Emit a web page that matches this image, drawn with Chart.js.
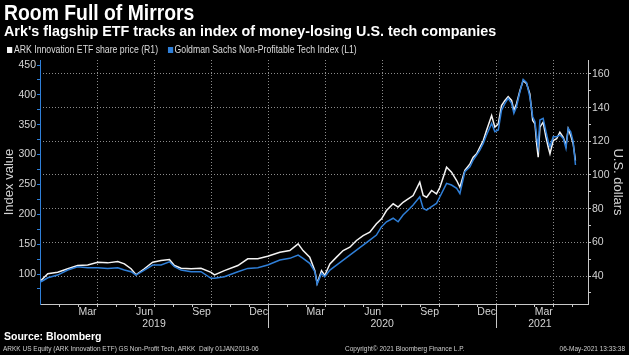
<!DOCTYPE html>
<html>
<head>
<meta charset="utf-8">
<script src="https://cdn.jsdelivr.net/npm/chart.js@4.4.1/dist/chart.umd.min.js"></script>
<style>
  html, body { margin:0; padding:0; background:#000; width:629px; height:355px; overflow:hidden; }
  #wrap { position:relative; width:629px; height:355px; background:#000; }
  #chart { position:absolute; left:0; top:0; }
  .t { position:absolute; white-space:nowrap; line-height:1; font-family:'Liberation Sans', Arial, sans-serif; color:#fff; transform-origin:0 0; }
  #title { left:4px; top:2px; font-size:22px; font-weight:bold; transform:scaleX(0.88); }
  #sub { left:4px; top:23px; font-size:15px; font-weight:bold; transform:scaleX(0.955); }
  #legend { left:7px; top:45px; font-size:10px; color:#dcdcdc; transform:scaleX(0.87); }
  #legend .sw { display:inline-block; width:6px; height:6px; margin-right:2px; vertical-align:0px; }
  #legend .it { margin-right:11px; }
  #source { left:4px; top:331px; font-size:10.5px; font-weight:bold; }
  .fn { top:346px; font-size:6.5px; color:#cfcfcf; }
  #fn1 { left:3px; }
  #fn2 { left:345px; }
  #fn3 { right:4px; }
</style>
</head>
<body>
<div id="wrap">
  <canvas id="chart" width="629" height="355"></canvas>
  <div class="t" id="title">Room Full of Mirrors</div>
  <div class="t" id="sub">Ark's flagship ETF tracks an index of money-losing U.S. tech companies</div>
  <div class="t" id="legend"></div>
  <div class="t" id="source">Source: Bloomberg</div>
  <div class="t fn" id="fn1">ARKK US Equity (ARK Innovation ETF) GS Non-Profit Tech, ARKK&nbsp; Daily 01JAN2019-06</div>
  <div class="t fn" id="fn2">Copyright© 2021 Bloomberg Finance L.P.</div>
  <div class="t fn" id="fn3">06-May-2021 13:33:38</div>
</div>
<script>
// ---- data (x = months elapsed since 1 Jan 2019) ----
const monthsSinceJan2019 = [
  0.05, 0.41, 0.93, 1.46, 1.98, 2.51, 3.04, 3.56, 4.09, 4.44,
  4.79, 5.05, 5.49, 5.93, 6.37, 6.81, 7.07, 7.42, 7.95, 8.47,
  9.0, 9.18, 9.7, 10.41, 10.93, 11.46, 11.98,
  12.62, 13.14, 13.58, 13.84, 14.19, 14.46, 14.58, 14.81, 14.98, 15.25,
  15.6, 15.95, 16.3, 16.65, 17.0, 17.35, 17.7, 17.97, 18.23, 18.58,
  18.84, 19.1, 19.37, 19.63, 19.98, 20.16, 20.34, 20.6, 20.86, 21.04,
  21.39, 21.65, 21.92, 22.09,
  22.35, 22.62, 22.79, 22.97, 23.14, 23.32, 23.49, 23.76, 23.93, 24.11,
  24.28, 24.46, 24.63, 24.81, 24.93, 25.07, 25.25, 25.42, 25.6, 25.77,
  25.92, 26.04, 26.13, 26.21, 26.3, 26.47, 26.62, 26.74, 26.83, 27.0,
  27.18, 27.35, 27.53, 27.67, 27.79, 27.92, 28.05, 28.17
];
const arkPrice = [
  37.3, 41.3, 42.2, 44.3, 46.2, 46.6, 48.2, 47.8, 48.6, 47.2,
  44.3, 40.7, 44.3, 48.2, 49.2, 49.8, 46.2, 44.6, 44.3, 44.6,
  42.2, 40.7, 43.2, 46.2, 50.2, 50.2, 51.7,
  54.1, 55.1, 59.1, 55.1, 51.2, 43.2, 35.7, 43.2, 40.3, 47.2,
  51.2, 55.1, 57.1, 61.1, 64.0, 66.0, 71.0, 74.0, 78.9, 82.9,
  80.9, 83.8, 85.8, 87.8, 95.7, 87.8, 86.8, 90.8, 88.8, 92.7,
  104.6, 101.7, 96.7, 92.7,
  102.7, 106.6, 110.6, 112.6, 116.5, 120.5, 126.4, 135.3, 128.4, 130.4,
  141.3, 144.3, 146.6, 144.3, 138.3, 142.3, 150.2, 156.1, 154.2, 148.2,
  132.4, 130.4, 118.5, 110.6, 128.4, 131.4, 122.4, 116.5, 112.6, 120.5,
  121.5, 125.4, 122.4, 117.5, 127.4, 123.5, 118.5, 108.6
];
const gsIndex = [
  87, 93.7, 98.2, 106.6, 112.2, 110.5, 110.5, 109.4, 110.5, 106.6,
  103.8, 98.2, 106.6, 115, 115, 120.5, 112.2, 106.6, 103.8, 103.8,
  92.7, 92.7, 95.4, 103.8, 109.4, 110.5, 115,
  123.4, 126.2, 131.7, 126.2, 117.8, 103.8, 83.2, 101, 95.4, 106.6,
  115, 123.4, 131.7, 140.1, 148.5, 156.9, 165.2, 179.2, 187.5, 193.4,
  187.5, 198.7, 207.1, 215.5, 229.4, 209.9, 207.1, 212.7, 218.3, 229.4,
  251.8, 249, 243.5, 234.9,
  271.3, 279.7, 290.9, 299.2, 307.6, 318.8, 332.7, 352.3, 338.3, 341.1,
  374.6, 385.8, 394.2, 385.8, 369.1, 380.2, 405.3, 426, 420.4, 396.9,
  363.4, 355, 329.9, 313.1, 357.9, 360.7, 338.3, 321.5, 313.1, 329.9,
  329.9, 332.7, 327.1, 310.5, 344, 338.3, 321.5, 282.5
];
const seriesNames = ['ARK Innovation ETF share price (R1)', 'Goldman Sachs Non-Profitable Tech Index (L1)'];
const monthLabels = ['Mar', 'Jun', 'Sep', 'Dec', 'Mar', 'Jun', 'Sep', 'Dec', 'Mar'];
const monthLabelAt = [2.5, 5.5, 8.5, 11.5, 14.5, 17.5, 20.5, 23.5, 26.5];
const yearLabels = ['2019', '2020', '2021'];
const yearLabelAt = [6, 18, 26.3];
const yearStarts = [12, 24];
const leftAxisTicks = [75, 100, 125, 150, 175, 200, 225, 250, 275, 300, 325, 350, 375, 400, 425, 450];
const rightAxisTicks = [30, 40, 50, 60, 70, 80, 90, 100, 110, 120, 130, 140, 150, 160];

// ---- styling ----
const FONT = "'Liberation Sans', Arial, sans-serif";
const WHITE = '#f4f4f4';
const BLUE = '#2f7fd8';
const AXIS = '#c8c8c8';
const GRID = '#8c8c8c';
const LABEL = '#d4d4d4';
const X_MIN = 0, X_MAX = 28.83;

// legend (html text)
const legendColors = [WHITE, BLUE];
document.getElementById('legend').innerHTML = seriesNames.map((n, i) =>
  '<span class="it"><span class="sw" style="background:' + legendColors[i] + '"></span>' + n + '</span>').join('');

const monthTickValues = [];
for (let m = 1; m <= 28; m++) monthTickValues.push(m);

const toXY = arr => monthsSinceJan2019.map((m, i) => ({ x: m, y: arr[i] }));

const xBase = { type: 'linear', position: 'bottom', min: X_MIN, max: X_MAX, bounds: 'data' };

new Chart(document.getElementById('chart').getContext('2d'), {
  type: 'line',
  data: {
    datasets: [
      { label: seriesNames[0], data: toXY(arkPrice), xAxisID: 'x', yAxisID: 'yR',
        borderColor: WHITE, borderWidth: 1.5, pointRadius: 0, tension: 0, order: 2 },
      { label: seriesNames[1], data: toXY(gsIndex), xAxisID: 'x', yAxisID: 'yL',
        borderColor: BLUE, borderWidth: 1.5, pointRadius: 0, tension: 0, order: 1 }
    ]
  },
  options: {
    responsive: false, animation: false, events: [],
    layout: { padding: { top: 60, left: 0, right: 0, bottom: 23 } },
    plugins: { legend: { display: false }, tooltip: { enabled: false } },
    scales: {
      x: Object.assign({}, xBase, {
        weight: 0,
        afterBuildTicks: s => { s.ticks = monthTickValues.map(v => ({ value: v })); },
        ticks: { callback: () => '', autoSkip: false, maxRotation: 0, padding: 0 },
        grid: { drawOnChartArea: true, drawTicks: true, tickLength: 3, lineWidth: 1,
                color: c => (c.tick && c.tick.value % 3 === 0) ? GRID : 'rgba(0,0,0,0)',
                tickColor: AXIS },
        border: { display: true, color: AXIS, width: 1, dash: [1, 2] },
        afterFit: s => { s.height = 3; }
      }),
      xm: Object.assign({}, xBase, {
        weight: 1,
        afterBuildTicks: s => {
          s.ticks = monthLabelAt.concat(yearStarts).sort((a, b) => a - b).map(v => ({ value: v }));
        },
        ticks: { autoSkip: false, maxRotation: 0, minRotation: 0, padding: -12.5, color: LABEL,
                 font: { family: FONT, size: 10.5 },
                 callback: v => { const i = monthLabelAt.indexOf(v); return i >= 0 ? monthLabels[i] : ''; } },
        grid: { drawOnChartArea: false, drawTicks: true, tickLength: 11, color: 'rgba(0,0,0,0)',
                tickColor: c => (c.tick && yearStarts.includes(c.tick.value)) ? AXIS : 'rgba(0,0,0,0)' },
        border: { display: false },
        afterFit: s => { s.height = 11; }
      }),
      xy: Object.assign({}, xBase, {
        weight: 2,
        afterBuildTicks: s => {
          s.ticks = yearLabelAt.concat(yearStarts).sort((a, b) => a - b).map(v => ({ value: v }));
        },
        ticks: { autoSkip: false, maxRotation: 0, minRotation: 0, padding: -9.8, color: LABEL,
                 font: { family: FONT, size: 10.5 },
                 callback: v => { const i = yearLabelAt.indexOf(v); return i >= 0 ? yearLabels[i] : ''; } },
        grid: { drawOnChartArea: false, drawTicks: true, tickLength: 10, color: 'rgba(0,0,0,0)',
                tickColor: c => (c.tick && yearStarts.includes(c.tick.value)) ? AXIS : 'rgba(0,0,0,0)' },
        border: { display: false },
        afterFit: s => { s.height = 14; }
      }),
      yL: {
        type: 'linear', position: 'left', min: 49.76, max: 458.4, bounds: 'data',
        afterBuildTicks: s => { s.ticks = leftAxisTicks.map(v => ({ value: v })); },
        ticks: { autoSkip: false, color: LABEL, padding: 1, font: { family: FONT, size: 10.5 },
                 callback: v => (v % 50 === 0 ? String(v) : '') },
        grid: { drawOnChartArea: false, drawTicks: true, tickLength: 3, color: BLUE, tickColor: BLUE },
        border: { display: true, color: BLUE, width: 1 },
        title: { display: true, text: 'Index value', color: LABEL, font: { family: FONT, size: 13 },
                 padding: { top: 2, bottom: 0 } },
        afterFit: s => { s.width = 40; }
      },
      yR: {
        type: 'linear', position: 'right', min: 23.37, max: 168.3, bounds: 'data',
        afterBuildTicks: s => { s.ticks = rightAxisTicks.map(v => ({ value: v })); },
        ticks: { autoSkip: false, color: LABEL, padding: 1, font: { family: FONT, size: 10.5 },
                 callback: v => (v % 20 === 0 ? String(v) : '') },
        grid: { drawOnChartArea: true, drawTicks: true, tickLength: 3, lineWidth: 1,
                color: c => (c.tick && c.tick.value % 20 === 0) ? GRID : 'rgba(0,0,0,0)',
                tickColor: AXIS },
        border: { display: true, color: AXIS, width: 1, dash: [1, 2] },
        title: { display: true, text: 'U.S. dollars', color: LABEL, font: { family: FONT, size: 13 },
                 padding: { top: 4, bottom: 0 } },
        afterFit: s => { s.width = 41; }
      }
    }
  }
});
</script>
</body>
</html>
